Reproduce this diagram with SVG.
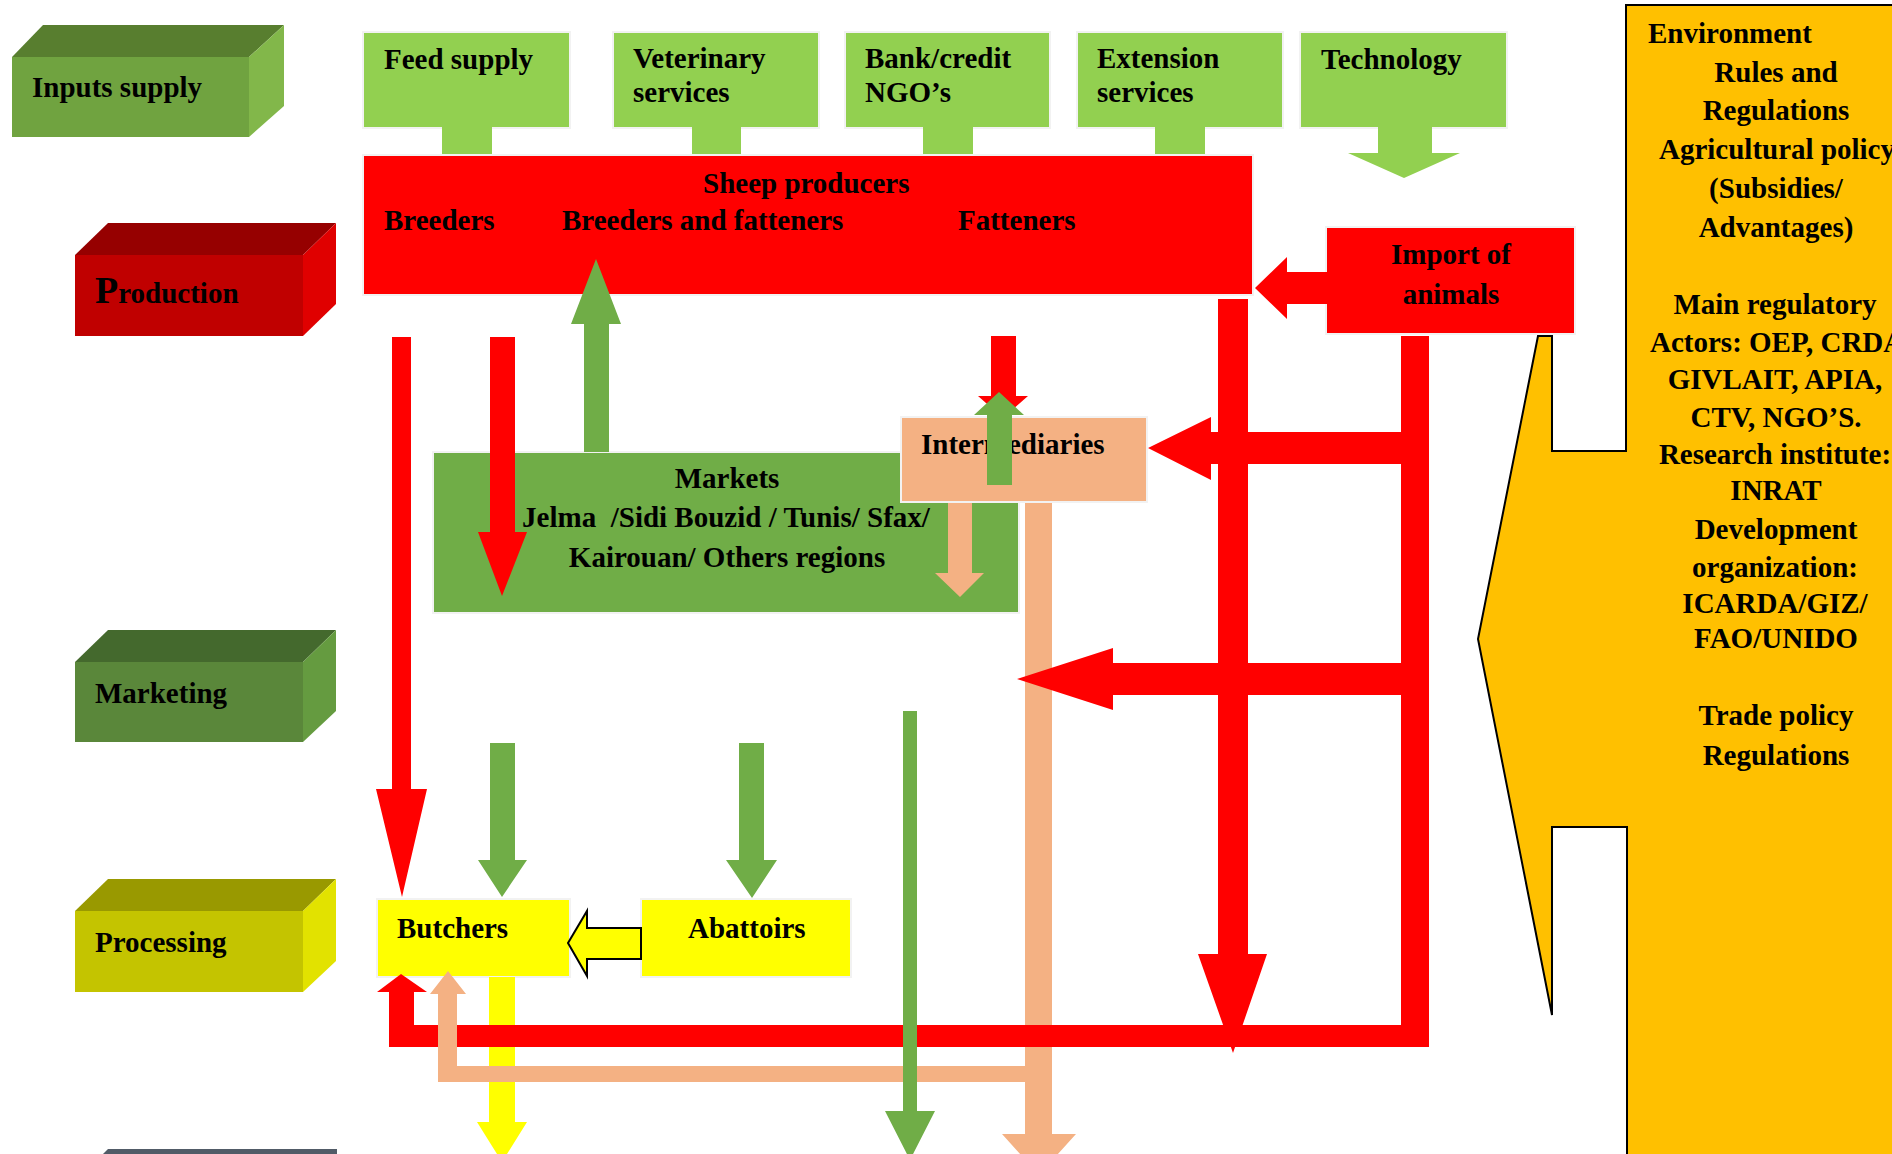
<svg xmlns="http://www.w3.org/2000/svg" width="1892" height="1154" viewBox="0 0 1892 1154">
<style>
.t{font-family:"Liberation Serif","Times New Roman",serif;font-weight:bold;font-size:29px;fill:#000}
.m{text-anchor:middle}
.g{fill:#92D050;stroke:#F2F2F2;stroke-width:2}
.box{stroke:#F2F2F2;stroke-width:2}
.red{fill:#FF0000}
.grn{fill:#70AD47}
.pch{fill:#F4B183}
.yel{fill:#FFFF00}
</style>
<rect width="1892" height="1154" fill="#FFFFFF"/>
<g id="inputs-supply">
<rect x="12" y="57" width="237" height="80" fill="#70A340"/>
<polygon points="12,57 43,25 284,25 249,57" fill="#587E2F"/>
<polygon points="249,57 284,25 284,106 249,137" fill="#82B74A"/>
<text class="t" x="32" y="97">Inputs supply</text>
</g>
<g id="production-level">
<rect x="75" y="255" width="228" height="81" fill="#C00000"/>
<polygon points="75,255 108,223 336,223 303,255" fill="#960000"/>
<polygon points="303,255 336,223 336,304 303,336" fill="#E00000"/>
<text class="t" x="95" y="303"><tspan font-size="38">P</tspan>roduction</text>
</g>
<g id="marketing-level">
<rect x="75" y="662" width="228" height="80" fill="#5A873A"/>
<polygon points="75,662 108,630 336,630 303,662" fill="#44692D"/>
<polygon points="303,662 336,630 336,711 303,742" fill="#659B40"/>
<text class="t" x="95" y="703">Marketing</text>
</g>
<g id="processing-level">
<rect x="75" y="911" width="228" height="81" fill="#C4C400"/>
<polygon points="75,911 108,879 336,879 303,911" fill="#999900"/>
<polygon points="303,911 336,879 336,961 303,992" fill="#E2E200"/>
<text class="t" x="95" y="952">Processing</text>
</g>
<g id="bottom-level">
<polygon points="108,1149 337,1149 337,1154 103,1154" fill="#515B67"/>
</g>
<g id="feed-supply">
<rect class="g" x="363" y="32" width="207" height="96"/>
<rect x="442" y="127" width="50" height="28" fill="#92D050"/>
<text class="t" x="384" y="69">Feed supply</text>
</g>
<g id="veterinary">
<rect class="g" x="613" y="32" width="206" height="96"/>
<rect x="692" y="127" width="49" height="28" fill="#92D050"/>
<text class="t" x="633" y="68">Veterinary</text>
<text class="t" x="633" y="102">services</text>
</g>
<g id="bank-credit">
<rect class="g" x="845" y="32" width="205" height="96"/>
<rect x="923" y="127" width="50" height="28" fill="#92D050"/>
<text class="t" x="865" y="68">Bank/credit</text>
<text class="t" x="865" y="102">NGO’s</text>
</g>
<g id="extension">
<rect class="g" x="1077" y="32" width="206" height="96"/>
<rect x="1155" y="127" width="50" height="28" fill="#92D050"/>
<text class="t" x="1097" y="68">Extension</text>
<text class="t" x="1097" y="102">services</text>
</g>
<g id="technology">
<rect class="g" x="1300" y="32" width="207" height="96"/>
<polygon points="1378,127 1432,127 1432,153 1460,153 1404,178 1348,153 1378,153" fill="#92D050"/>
<text class="t" x="1321" y="69">Technology</text>
</g>
<g id="sheep-producers">
<rect class="box" x="363" y="155" width="890" height="140" fill="#FF0000"/>
<text class="t" x="703" y="193">Sheep producers</text>
<text class="t" x="384" y="230">Breeders</text>
<text class="t" x="562" y="230">Breeders and fatteners</text>
<text class="t" x="958" y="230">Fatteners</text>
</g>
<g id="environment">
<polygon points="1626,5 1895,5 1895,1160 1627,1160 1627,827 1552,827 1552,1015 1478,639 1538,336 1552,336 1552,451 1626,451" fill="#FFC000" stroke="#000" stroke-width="2"/>
<text class="t" x="1648" y="43">Environment</text>
<text class="t m" x="1776" y="82">Rules and</text>
<text class="t m" x="1776" y="120">Regulations</text>
<text class="t m" x="1777" y="159">Agricultural policy</text>
<text class="t m" x="1776" y="198">(Subsidies/</text>
<text class="t m" x="1776" y="237">Advantages)</text>
<text class="t m" x="1775" y="314">Main regulatory</text>
<text class="t" x="1650" y="352">Actors: OEP, CRDA</text>
<text class="t m" x="1775" y="389">GIVLAIT, APIA,</text>
<text class="t m" x="1776" y="427">CTV, NGO’S.</text>
<text class="t m" x="1775" y="464">Research institute:</text>
<text class="t m" x="1776" y="500">INRAT</text>
<text class="t m" x="1776" y="539">Development</text>
<text class="t m" x="1775" y="577">organization:</text>
<text class="t m" x="1775" y="613">ICARDA/GIZ/</text>
<text class="t m" x="1776" y="648">FAO/UNIDO</text>
<text class="t m" x="1776" y="725">Trade policy</text>
<text class="t m" x="1776" y="765">Regulations</text>
</g>
<g id="import">
<rect class="box" x="1326" y="227" width="249" height="107" fill="#FF0000"/>
<text class="t m" x="1451" y="264">Import of</text>
<text class="t m" x="1451" y="304">animals</text>
</g>
<g id="markets">
<rect class="box" x="433" y="452" width="586" height="161" fill="#70AD47"/>
<text class="t m" x="727" y="488">Markets</text>
<text class="t m" x="726" y="527">Jelma&#160; /Sidi Bouzid / Tunis/ Sfax/</text>
<text class="t m" x="727" y="567">Kairouan/ Others regions</text>
</g>
<g id="intermediaries">
<rect class="box" x="901" y="417" width="246" height="85" fill="#F4B183"/>
<text class="t" x="921" y="454">Intermediaries</text>
</g>
<g id="butchers">
<rect class="box" x="377" y="899" width="193" height="78" fill="#FFFF00"/>
<text class="t" x="397" y="938">Butchers</text>
</g>
<g id="abattoirs">
<rect class="box" x="641" y="899" width="210" height="78" fill="#FFFF00"/>
<text class="t" x="688" y="938">Abattoirs</text>
</g>
<g id="connectors">
<polygon class="yel" points="489,977 515,977 515,1122 527,1122 502,1162 477,1122 489,1122"/>
<polygon class="pch" points="1025,503 1052,503 1052,1134 1076,1134 1039,1175 1002,1134 1025,1134 1025,1082 438,1082 438,994 430,994 448,971 466,994 457,994 457,1066 1025,1066"/>
<polygon class="red" points="392,337 411,337 411,789 427,789 402,897 376,789 392,789"/>
<polygon class="red" points="490,337 515,337 515,532 527,532 502,596 478,532 490,532"/>
<polygon class="red" points="991,336 1016,336 1016,396 1028,396 1003,418 978,396 991,396"/>
<polygon class="red" points="1327,272 1287,272 1287,257 1255,288 1287,319 1287,304 1327,304"/>
<polygon class="red" points="1218,299 1248,299 1248,954 1267,954 1233,1053 1198,954 1218,954"/>
<polygon class="red" points="1401,336 1429,336 1429,1047 389,1047 389,992 377,992 401,974 427,992 414,992 414,1025 1401,1025"/>
<polygon class="red" points="1401,432 1211,432 1211,417 1148,448 1211,480 1211,464 1401,464"/>
<polygon class="red" points="1401,663 1113,663 1113,648 1017,679 1113,710 1113,695 1401,695"/>
<rect class="pch" x="438" y="1025" width="19" height="22"/>
<polygon class="grn" points="584,452 609,452 609,324 621,324 596,259 571,324 584,324"/>
<polygon class="grn" points="987,485 1012,485 1012,415 1024,415 999,392 974,415 987,415"/>
<polygon class="grn" points="490,743 515,743 515,860 527,860 502,897 478,860 490,860"/>
<polygon class="grn" points="739,743 764,743 764,860 777,860 752,898 726,860 739,860"/>
<polygon class="grn" points="903,711 917,711 917,1111 935,1111 910,1160 885,1111 903,1111"/>
<polygon class="pch" points="948,503 972,503 972,573 984,573 960,597 935,573 948,573"/>
<polygon points="641,928 587,928 587,911 568,943 587,976 587,959 641,959" fill="#FFFF00" stroke="#000" stroke-width="2"/>
</g>
</svg>
